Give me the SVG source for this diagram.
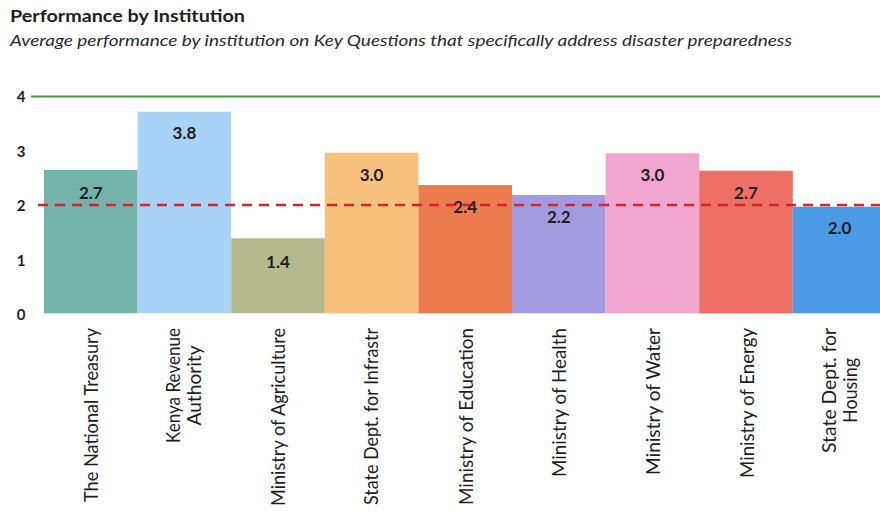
<svg xmlns="http://www.w3.org/2000/svg" width="880" height="516" viewBox="0 0 880 516">
<style>
  text { font-family: Lato, "Open Sans", "Liberation Sans", sans-serif; fill: #1e1e1e; }
  .title { font-size: 17px; font-weight: bold; }
  .sub { font-size: 15px; font-style: italic; fill: #2a2a2a; }
  .ytick { font-size: 15px; font-weight: bold; text-anchor: middle; }
  .val { font-size: 17px; font-weight: bold; text-anchor: middle; }
  .cat { font-size: 19px; }
  .end { text-anchor: end; }
  .mid { text-anchor: middle; }
</style>
<rect width="880" height="516" fill="#ffffff"/>
<text class="title" x="10" y="22" textLength="235" lengthAdjust="spacingAndGlyphs">Performance by Institution</text>
<text class="sub" x="10" y="46" textLength="782" lengthAdjust="spacingAndGlyphs">Average performance by institution on Key Questions that specifically address disaster preparedness</text>

<g id="y-axis">
  <text class="ytick" x="21" y="102">4</text>
  <text class="ytick" x="21" y="157">3</text>
  <text class="ytick" x="21" y="211">2</text>
  <text class="ytick" x="21" y="266">1</text>
  <text class="ytick" x="21" y="320">0</text>
</g>

<g id="bars">
  <g id="bar-treasury"><rect x="44" y="170" width="93.6" height="143.3" fill="#74b3aa"/></g>
  <g id="bar-kra"><rect x="137.6" y="111.7" width="93.6" height="201.6" fill="#a8d2f6"/></g>
  <g id="bar-agriculture"><rect x="231.2" y="238.3" width="93.6" height="75" fill="#b5b98e"/></g>
  <g id="bar-infrastr"><rect x="324.8" y="152.7" width="93.6" height="160.6" fill="#f8c27e"/></g>
  <g id="bar-education"><rect x="418.4" y="185" width="93.6" height="128.3" fill="#ec7b4f"/></g>
  <g id="bar-health"><rect x="512" y="195" width="93.6" height="118.3" fill="#a39be0"/></g>
  <g id="bar-water"><rect x="605.6" y="153.3" width="93.6" height="160" fill="#f0a6cf"/></g>
  <g id="bar-energy"><rect x="699.2" y="170.7" width="93.6" height="142.6" fill="#ee6f66"/></g>
  <g id="bar-housing"><rect x="792.8" y="206.7" width="93.6" height="106.6" fill="#4a9ae6"/></g>
</g>

<g id="reference-lines">
  <line x1="31" y1="96.5" x2="880" y2="96.5" stroke="#3f9a3c" stroke-width="2.2"/>
  <line x1="38" y1="205" x2="880" y2="205" stroke="#d9232b" stroke-width="2.4" stroke-dasharray="10 7"/>
</g>

<g id="values">
  <text class="val" x="90.8" y="199">2.7</text>
  <text class="val" x="184.4" y="139">3.8</text>
  <text class="val" x="278" y="268">1.4</text>
  <text class="val" x="371.6" y="181">3.0</text>
  <text class="val" x="465.2" y="213">2.4</text>
  <text class="val" x="558.8" y="223">2.2</text>
  <text class="val" x="652.4" y="181">3.0</text>
  <text class="val" x="746" y="199">2.7</text>
  <text class="val" x="839.6" y="234">2.0</text>
</g>

<g id="categories">
  <text class="cat end" transform="translate(97.5,328) rotate(-90)" textLength="174" lengthAdjust="spacingAndGlyphs">The National Treasury</text>
  <g transform="translate(184.4,385.5) rotate(-90)">
    <text class="cat mid" x="0" y="-4" textLength="115" lengthAdjust="spacingAndGlyphs">Kenya Revenue</text>
    <text class="cat mid" x="0" y="17" textLength="80" lengthAdjust="spacingAndGlyphs">Authority</text>
  </g>
  <text class="cat end" transform="translate(284.5,328) rotate(-90)" textLength="178" lengthAdjust="spacingAndGlyphs">Ministry of Agriculture</text>
  <text class="cat end" transform="translate(378,328) rotate(-90)" textLength="177" lengthAdjust="spacingAndGlyphs">State Dept. for Infrastr</text>
  <text class="cat end" transform="translate(472.5,328) rotate(-90)" textLength="177" lengthAdjust="spacingAndGlyphs">Ministry of Education</text>
  <text class="cat end" transform="translate(566,328) rotate(-90)" textLength="149" lengthAdjust="spacingAndGlyphs">Ministry of Health</text>
  <text class="cat end" transform="translate(659.5,328) rotate(-90)" textLength="147" lengthAdjust="spacingAndGlyphs">Ministry of Water</text>
  <text class="cat end" transform="translate(754,328) rotate(-90)" textLength="150" lengthAdjust="spacingAndGlyphs">Ministry of Energy</text>
  <g transform="translate(840,390.5) rotate(-90)">
    <text class="cat mid" x="0" y="-4" textLength="125" lengthAdjust="spacingAndGlyphs">State Dept. for</text>
    <text class="cat mid" x="0" y="17" textLength="65" lengthAdjust="spacingAndGlyphs">Housing</text>
  </g>
</g>
</svg>
